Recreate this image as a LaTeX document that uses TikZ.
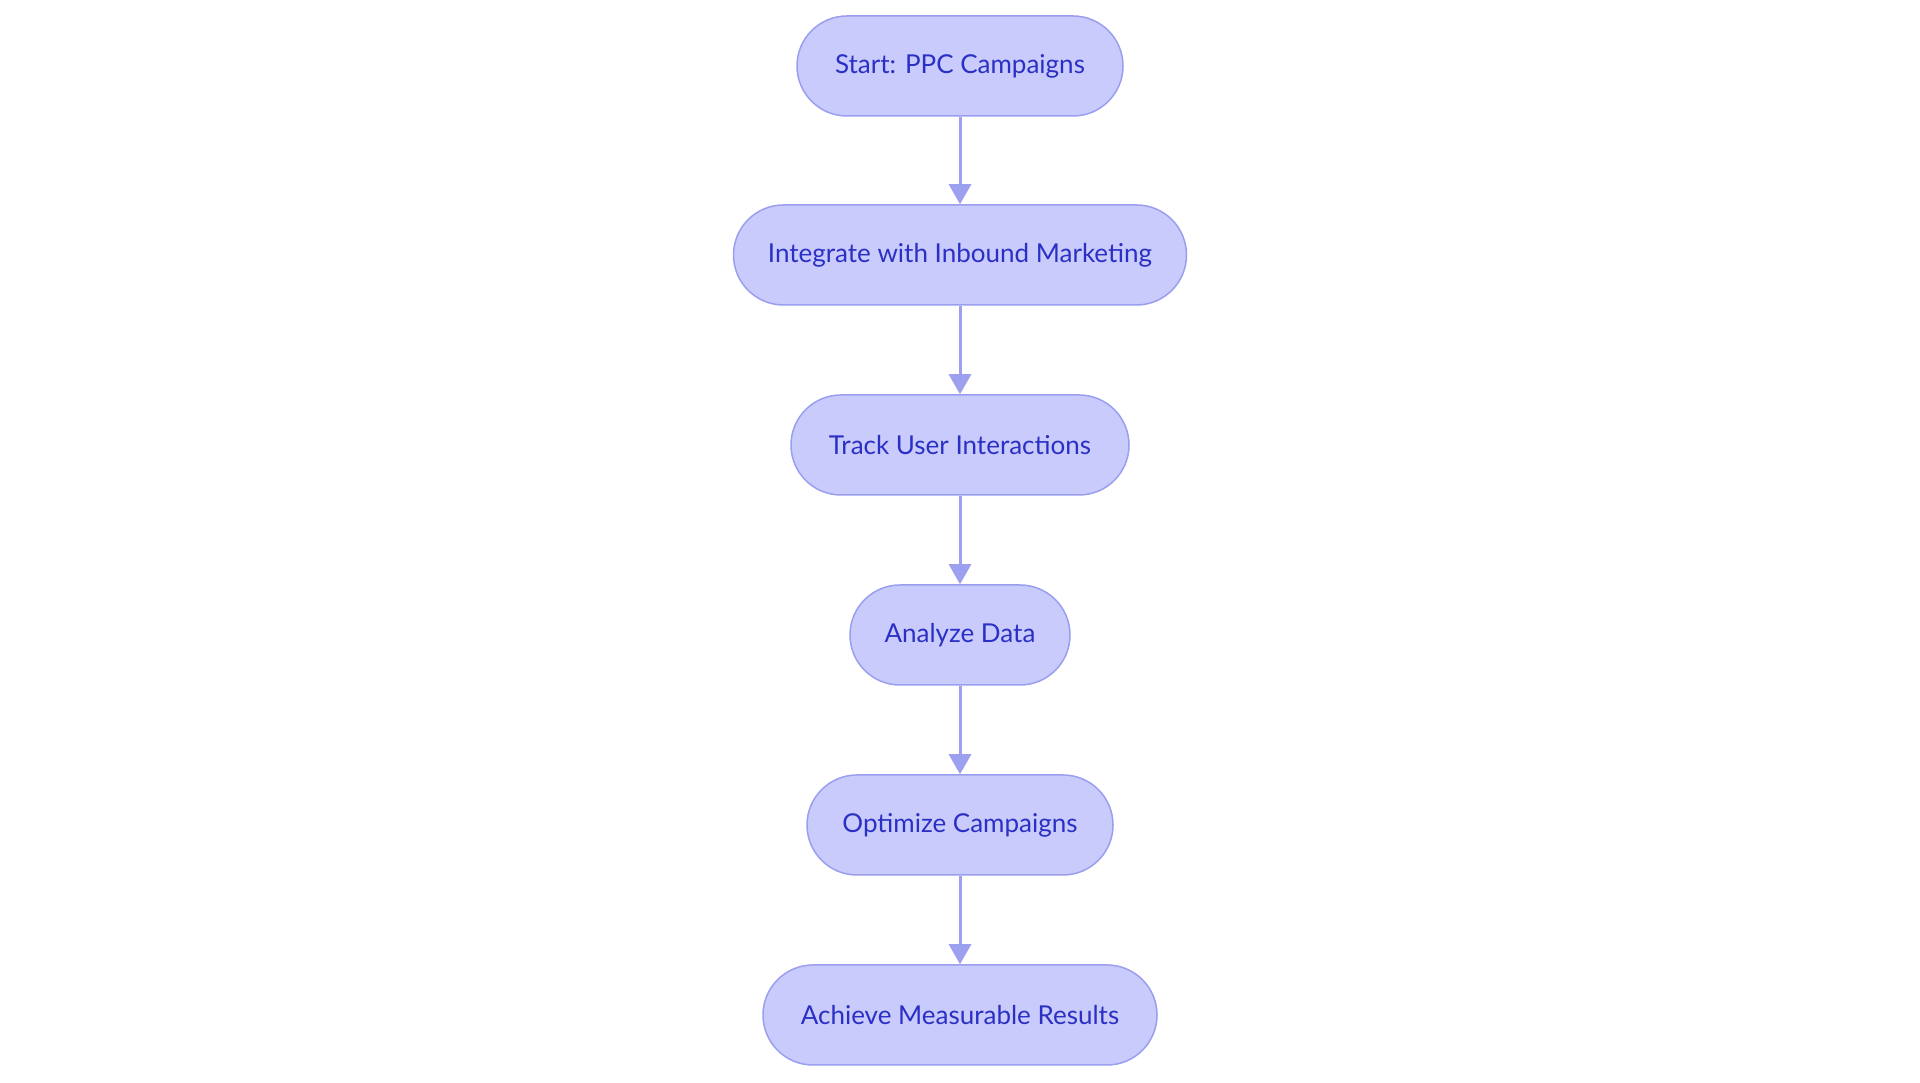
\documentclass[tikz,border=0pt]{standalone}
\usepackage{fontspec}
\setmainfont{Lato}
\usetikzlibrary{arrows.meta}
\definecolor{nfill}{HTML}{C9CBFC}
\definecolor{nborder}{HTML}{9A9EEE}
\definecolor{ntext}{HTML}{2B30C4}
\definecolor{arr}{HTML}{9DA0EE}
\begin{document}
\begin{tikzpicture}[x=1pt,y=1pt,
  box/.style={draw=nborder,line width=1.5pt,fill=nfill,rounded corners=50pt,minimum height=100pt,text=ntext,font=\fontsize{26}{31}\selectfont,inner sep=0pt},
  conn/.style={draw=arr,line width=3pt,-{Triangle[length=20pt,width=22pt]}}]
\useasboundingbox (0,0) rectangle (1920,1083);
\node[box,minimum width=326pt] (a) at (960,1017) {Start: PPC Campaigns};
\node[box,minimum width=453pt] (b) at (960,828) {Integrate with Inbound Marketing};
\node[box,minimum width=338pt] (c) at (960,638) {Track User Interactions};
\node[box,minimum width=220pt] (d) at (960,448) {Analyze Data};
\node[box,minimum width=306pt] (e) at (960,258) {Optimize Campaigns};
\node[box,minimum width=394pt] (f) at (960,68) {Achieve Measurable Results};
\draw[conn] (a) -- (b);
\draw[conn] (b) -- (c);
\draw[conn] (c) -- (d);
\draw[conn] (d) -- (e);
\draw[conn] (e) -- (f);
\end{tikzpicture}
\end{document}
